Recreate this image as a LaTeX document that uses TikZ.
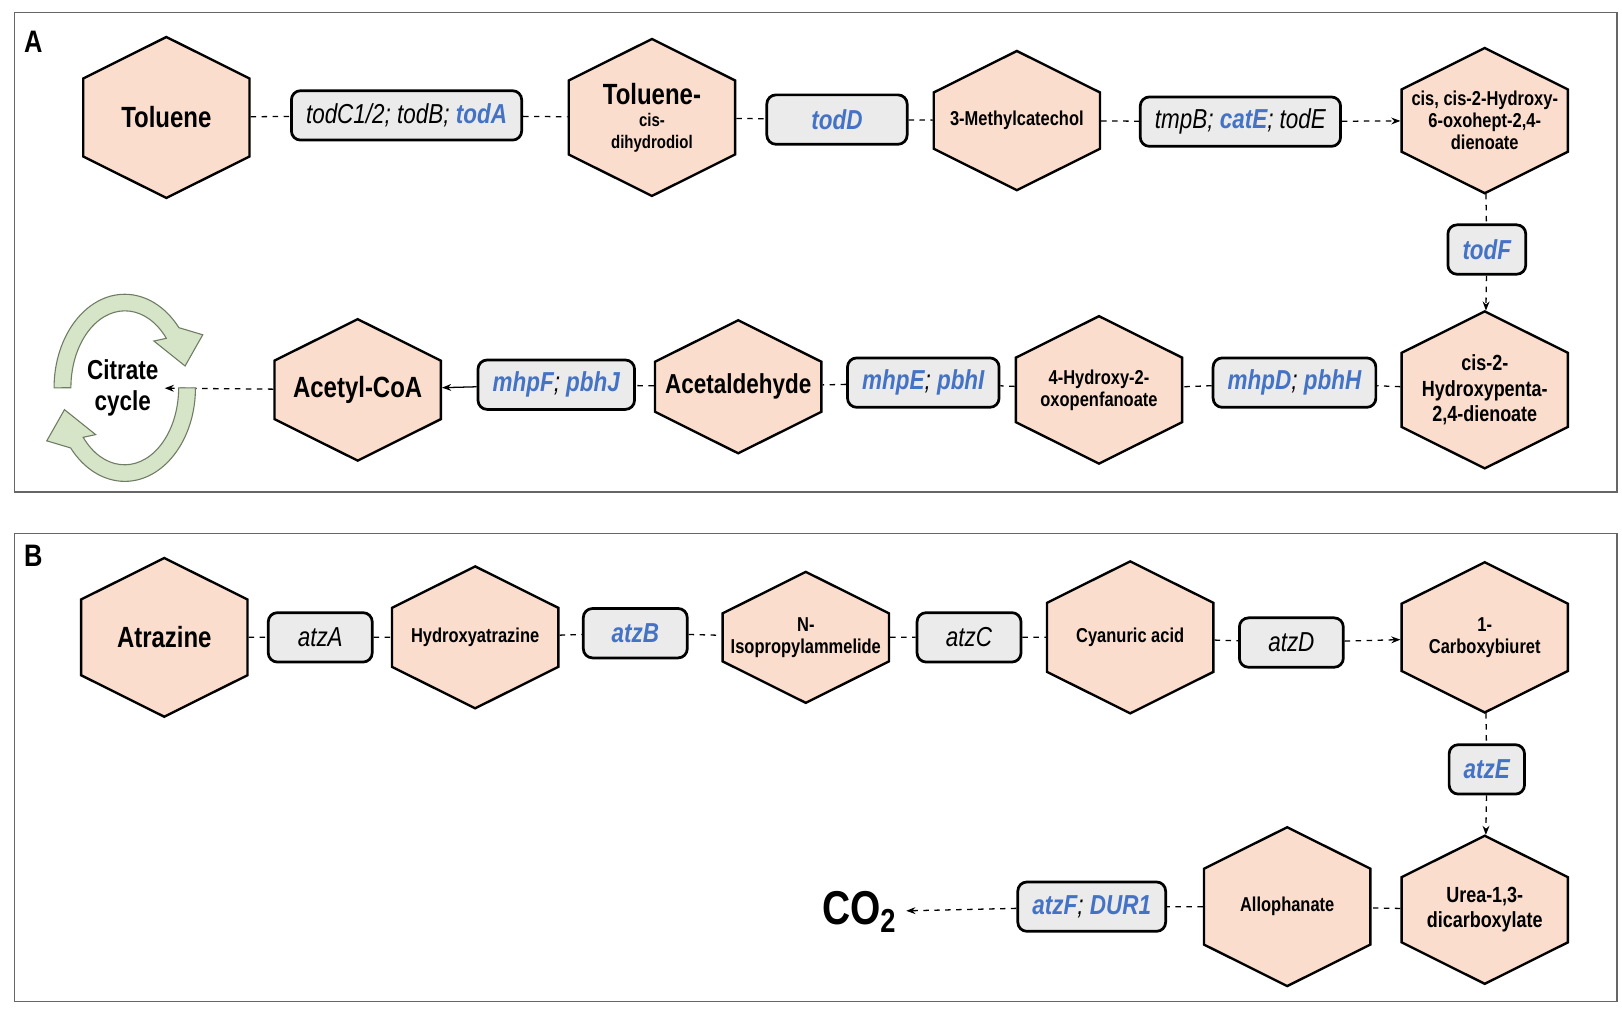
\documentclass[tikz,border=0pt]{standalone}
\usepackage{fontspec}
\setmainfont{Liberation Sans}[FakeStretch=0.82]
\usetikzlibrary{shapes.symbols,arrows.meta}
\definecolor{hexfill}{RGB}{250,221,204}
\definecolor{boxfill}{RGB}{235,235,235}
\definecolor{genblue}{RGB}{68,114,196}
\definecolor{cycfill}{RGB}{214,228,200}
\definecolor{cycdraw}{RGB}{110,125,100}
\newcommand{\gb}[1]{\textcolor{genblue}{\textbf{#1}}}

\begin{document}
\begin{tikzpicture}[x=0.02cm,y=-0.02cm,
    hex/.style={signal, signal to=north and south, signal pointer angle=127,
      draw, fill=hexfill, line width=1.3pt, minimum width=3.2cm, minimum height=2.4cm,
      inner sep=1pt, align=center, font=\bfseries\fontsize{11}{12}\selectfont},
    big/.style={font=\bfseries\fontsize{16}{18}\selectfont},
    gene/.style={draw, fill=boxfill, rounded corners=5pt, line width=1.5pt,
      minimum height=0.95cm, inner xsep=8pt, font=\itshape\fontsize{15}{17}\selectfont},
    link/.style={dashed, line width=0.7pt},
    flow/.style={dashed, line width=0.7pt, -{Stealth[length=5pt]}}]
    \useasboundingbox (0,0) rectangle (1560,972);
    % panel frames
    \draw[gray!80!black, line width=0.8pt] (14,12) rectangle (1555,473);
    \draw[gray!80!black, line width=0.8pt] (14,513) rectangle (1555,963);
    \node[font=\bfseries\fontsize{17}{19}\selectfont] at (32,40) {A};
    \node[font=\bfseries\fontsize{17}{19}\selectfont] at (32,535) {B};

    % Panel A: toluene
    \node[hex, big] (tol) at (160,113) {Toluene};
    \node[hex] (tcd) at (627,113) {{\fontsize{16}{18}\selectfont Toluene-}\\{\fontsize{10}{12}\selectfont cis-}\\{\fontsize{10}{12}\selectfont dihydrodiol}};
    \node[hex] (mcat) at (978,116) {3-Methylcatechol};
    \node[hex] (hod) at (1428,116) {cis, cis-2-Hydroxy-\\6-oxohept-2,4-\\dienoate};
    \node[hex, font=\bfseries\fontsize{12}{14}\selectfont] (hpd) at (1428,375) {cis-2-\\Hydroxypenta-\\2,4-dienoate};
    \node[hex] (hop) at (1057,375) {4-Hydroxy-2-\\oxopenfanoate};
    \node[hex, font=\bfseries\fontsize{15}{17}\selectfont] (acald) at (710,372) {Acetaldehyde};
    \node[hex, big] (acoa) at (344,375) {Acetyl-CoA};
    \node[font=\bfseries\fontsize{15}{17}\selectfont, align=center] (cit) at (118,373) {Citrate\\cycle};

    \node[gene] (todC) at (391,111) {todC1/2; todB; \gb{todA}};
    \node[gene, minimum width=2.7cm] (todD) at (805,115) {\gb{todD}};
    \node[gene] (tmpB) at (1193,117) {tmpB; \gb{catE}; todE};
    \node[gene] (todF) at (1430,240) {\gb{todF}};
    \node[gene] (mhpD) at (1245,368) {\gb{mhpD}; \gb{pbhH}};
    \node[gene] (mhpE) at (888,368) {\gb{mhpE}; \gb{pbhI}};
    \node[gene] (mhpF) at (535,370) {\gb{mhpF}; \gb{pbhJ}};

    \draw[link] (tol) -- (todC);
    \draw[link] (todC) -- (tcd);
    \draw[link] (tcd) -- (todD);
    \draw[link] (todD) -- (mcat);
    \draw[link] (mcat) -- (tmpB);
    \draw[flow] (tmpB) -- (hod);
    \draw[link] (hod) -- (todF);
    \draw[flow] (todF) -- (hpd);
    \draw[link] (hpd) -- (mhpD);
    \draw[link] (mhpD) -- (hop);
    \draw[link] (hop) -- (mhpE);
    \draw[link] (mhpE) -- (acald);
    \draw[link] (acald) -- (mhpF);
    \draw[flow, solid] (mhpF) -- (acoa);
    \draw[flow] (acoa) -- (cit);

    % citrate cycle arrows
    \filldraw[fill=cycfill, draw=cycdraw, line width=0.6pt]
      (52,373) arc[start angle=180, end angle=40, x radius=1.36cm, y radius=1.8cm]
      -- (195,322) -- (178,352) -- (148,328) -- (160,325.4)
      arc[start angle=40, end angle=180, x radius=1.04cm, y radius=1.48cm] -- cycle;
    \filldraw[fill=cycfill, draw=cycdraw, line width=0.6pt]
      (188,373) arc[start angle=0, end angle=-140, x radius=1.36cm, y radius=1.8cm]
      -- (45,424) -- (62,394) -- (92,418) -- (80,420.6)
      arc[start angle=-140, end angle=0, x radius=1.04cm, y radius=1.48cm] -- cycle;

    % Panel B: atrazine
    \node[hex, big] (atr) at (158,613) {Atrazine};
    \node[hex] (hatr) at (457,613) {Hydroxyatrazine};
    \node[hex] (nia) at (775,613) {N-\\Isopropylammelide};
    \node[hex] (cya) at (1087,613) {Cyanuric acid};
    \node[hex] (cbu) at (1428,613) {1-\\Carboxybiuret};
    \node[hex, font=\bfseries\fontsize{12}{14}\selectfont] (urea) at (1428,875) {Urea-1,3-\\dicarboxylate};
    \node[hex] (allo) at (1238,872) {Allophanate};
    \node[font=\bfseries\fontsize{26}{28}\selectfont] (co2) at (828,877) {CO$_\mathbf{2}$};

    \node[gene, minimum width=2cm] (atzA) at (308,613) {atzA};
    \node[gene, minimum width=2cm] (atzB) at (611,609) {\gb{atzB}};
    \node[gene, minimum width=2cm] (atzC) at (932,613) {atzC};
    \node[gene, minimum width=2cm] (atzD) at (1242,618) {atzD};
    \node[gene] (atzE) at (1430,740) {\gb{atzE}};
    \node[gene] (atzF) at (1050,872) {\gb{atzF}; \gb{DUR1}};

    \draw[link] (atr) -- (atzA);
    \draw[link] (atzA) -- (hatr);
    \draw[link] (hatr) -- (atzB);
    \draw[link] (atzB) -- (nia);
    \draw[link] (nia) -- (atzC);
    \draw[link] (atzC) -- (cya);
    \draw[link] (cya) -- (atzD);
    \draw[flow] (atzD) -- (cbu);
    \draw[link] (cbu) -- (atzE);
    \draw[flow] (atzE) -- (urea);
    \draw[link] (urea) -- (allo);
    \draw[link] (allo) -- (atzF);
    \draw[flow] (atzF) -- (co2);
\end{tikzpicture}
\end{document}
